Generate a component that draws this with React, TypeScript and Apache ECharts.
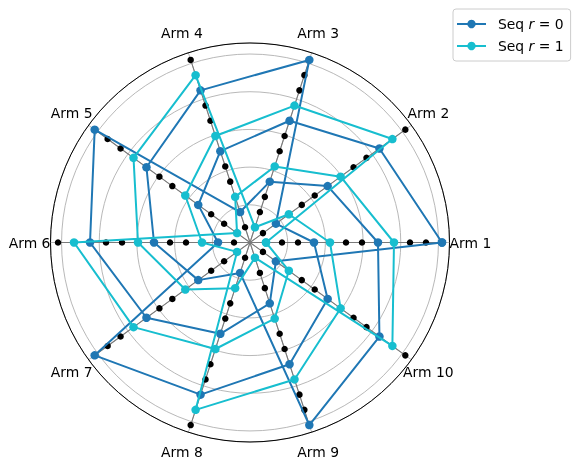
import React, { useEffect, useRef } from 'react';
import * as echarts from 'echarts';

const FONT = 'DejaVu Sans';

// Arms (angular positions) and their labels
const armLabels = ['Arm 1', 'Arm 2', 'Arm 3', 'Arm 4', 'Arm 5', 'Arm 6', 'Arm 7', 'Arm 8', 'Arm 9', 'Arm 10'];
const armAngles = [0, 36, 72, 108, 144, 180, 216, 252, 288, 324];
// Radial positions of the black markers on each arm
const armPositions = [1, 2, 3, 4, 5, 6, 7, 8, 9, 10, 11, 12];

// Seq r = 0 : visited (arm, position) pairs in order
const seq0Arms = [1, 10, 9, 8, 7, 6, 5, 4, 3, 2, 1, 10, 9, 8, 7, 6, 5, 4, 3, 2, 1, 10, 9, 8, 7, 6, 5, 4, 3, 2, 1];
const seq0Positions = [12, 2, 4, 6, 8, 10, 12, 2, 4, 6, 8, 10, 12, 2, 4, 6, 8, 10, 12, 2, 4, 6, 8, 10, 12, 2, 4, 6, 8, 10, 12];

// Seq r = 1
const seq1Arms = [1, 10, 9, 8, 7, 6, 5, 4, 3, 2, 1, 10, 9, 8, 7, 6, 5, 4, 3, 2, 1, 10, 9, 8, 7, 6, 5, 4, 3, 2, 1];
const seq1Positions = [1, 3, 5, 7, 9, 11, 1, 3, 5, 7, 9, 11, 1, 3, 5, 7, 9, 11, 1, 3, 5, 7, 9, 11, 1, 3, 5, 7, 9, 11, 1];

const seriesNames = ['Seq r = 0', 'Seq r = 1'];
const seriesColors = ['#1f77b4', '#17becf'];

const RADIUS_MAX = 12.47;
const GRID_STEP = 2.356;
const LABEL_RADIUS = 13.78;

export default function App() {
  const ref = useRef<HTMLDivElement>(null);

  useEffect(() => {
    if (!ref.current) return;
    const chart = echarts.init(ref.current, undefined, { renderer: 'svg' });

    const armSeries = armAngles.map((angle, k) => ({
      type: 'line',
      coordinateSystem: 'polar',
      name: 'arm' + (k + 1),
      silent: true,
      symbol: 'circle',
      symbolSize: 6.5,
      showSymbol: true,
      itemStyle: { color: '#000000' },
      lineStyle: { color: '#7a7a7a', width: 1.1 },
      data: [{ value: [0, angle], symbol: 'none' }, ...armPositions.map((p) => [p, angle])],
      z: 2,
    }));

    const seqData = [
      seq0Arms.map((a, i) => [seq0Positions[i], armAngles[a - 1]]),
      seq1Arms.map((a, i) => [seq1Positions[i], armAngles[a - 1]]),
    ];

    const seqSeries = seqData.map((data, s) => ({
      type: 'line',
      coordinateSystem: 'polar',
      name: seriesNames[s],
      symbol: 'circle',
      symbolSize: 8.5,
      showSymbol: true,
      itemStyle: { color: seriesColors[s] },
      lineStyle: { color: seriesColors[s], width: 2 },
      data,
      z: 3 + s,
    }));

    const option: any = {
      animation: false,
      textStyle: { fontFamily: FONT },
      polar: { center: [250, 242.5], radius: 199.5 },
      angleAxis: {
        type: 'value',
        min: 0,
        max: 360,
        interval: 36,
        startAngle: 0,
        clockwise: false,
        axisLine: { show: true, lineStyle: { color: '#000000', width: 1 } },
        axisTick: { show: false },
        axisLabel: { show: false },
        splitLine: { show: true, lineStyle: { color: '#b0b0b0', width: 0.9 } },
      },
      radiusAxis: {
        type: 'value',
        min: 0,
        max: RADIUS_MAX,
        interval: GRID_STEP,
        axisLine: { show: false },
        axisTick: { show: false },
        axisLabel: { show: false },
        splitLine: { show: true, lineStyle: { color: '#b0b0b0', width: 0.9 } },
      },
      legend: {
        data: seriesNames,
        orient: 'vertical',
        left: 453,
        top: 9,
        padding: [8, 7, 8, 3],
        itemWidth: 29,
        itemHeight: 10.5,
        itemGap: 8,
        backgroundColor: 'rgba(255,255,255,0.8)',
        borderColor: '#cccccc',
        borderWidth: 1,
        borderRadius: 3,
        textStyle: {
          fontFamily: FONT,
          fontSize: 13.9,
          color: '#000000',
          rich: {
            s: { width: 7, fontSize: 13.9, fontFamily: FONT },
            t: { fontSize: 13.9, fontFamily: FONT, color: '#000000' },
            i: { fontStyle: 'italic', fontSize: 13.9, fontFamily: FONT, color: '#000000' },
          },
        },
        formatter: (name: string) => {
          const parts = name.split(' r ');
          return '{s| }{t|' + parts[0] + ' }{i|r}{t| ' + parts[1] + '}';
        },
      },
      series: [...armSeries, ...seqSeries],
    };

    chart.setOption(option);

    const labels = armLabels.map((label, k) => {
      const pt = chart.convertToPixel({ seriesIndex: 0 } as any, [LABEL_RADIUS, armAngles[k]]) as number[];
      return {
        type: 'text',
        x: pt ? pt[0] : 0,
        y: pt ? pt[1] : 0,
        silent: true,
        style: {
          text: label,
          fill: '#000000',
          fontSize: 13.9,
          fontFamily: FONT,
          align: 'center',
          verticalAlign: 'middle',
        },
      };
    });
    chart.setOption({ graphic: labels });

    return () => {
      chart.dispose();
    };
  }, []);

  return (
    <div
      ref={ref}
      style={{ position: 'fixed', left: 0, top: 0, width: 574, height: 469 }}
    />
  );
}
